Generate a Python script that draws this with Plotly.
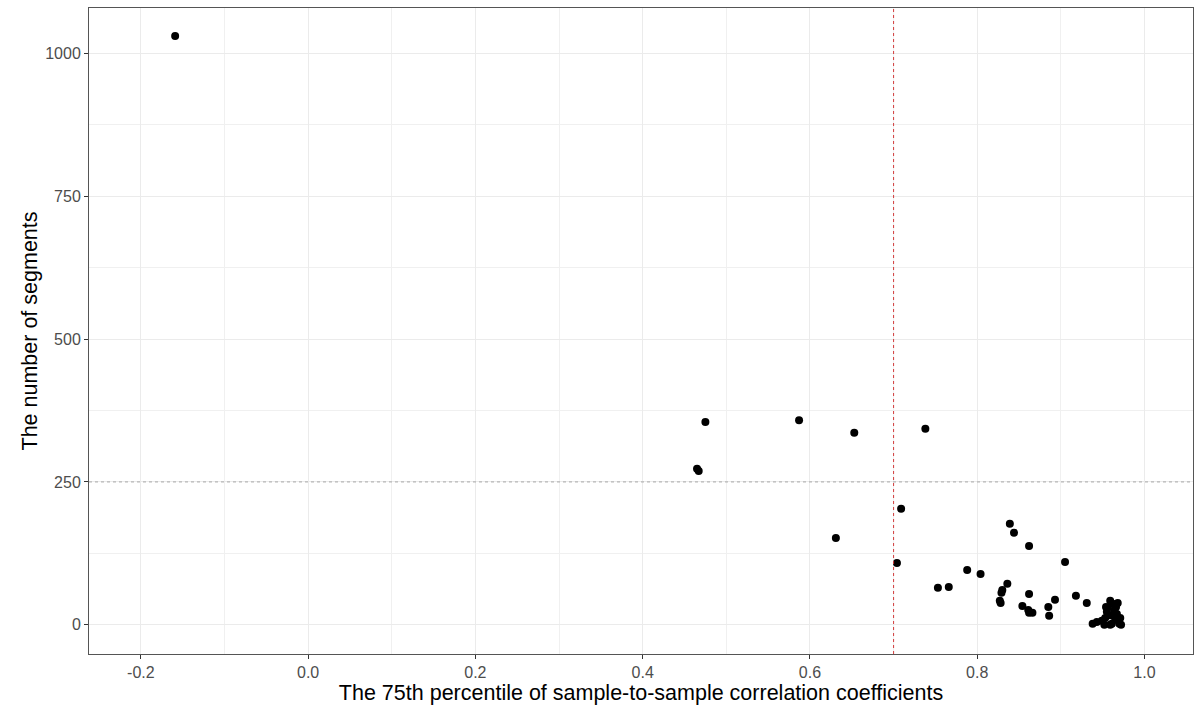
import plotly.graph_objects as go

# Data
corr_p75 = [
    -0.159, 0.465, 0.467, 0.475, 0.587, 0.653, 0.631, 0.738, 0.709, 0.704,
    0.839, 0.844, 0.862, 0.905, 0.788, 0.804, 0.753, 0.766, 0.836, 0.830,
    0.829, 0.827, 0.828, 0.862, 0.854, 0.861, 0.862, 0.866, 0.885, 0.886,
    0.893, 0.918, 0.931, 0.959, 0.968,
    0.938, 0.943, 0.949, 0.953, 0.955, 0.956, 0.959, 0.961, 0.964, 0.965,
    0.967, 0.970, 0.971, 0.972, 0.952, 0.959, 0.954, 0.966, 0.962,
]
n_segments = [
    1030, 273, 269, 355, 358, 336, 152, 343, 203, 108,
    177, 161, 138, 110, 96, 89, 65, 66, 72, 61,
    56, 42, 38, 54, 33, 26, 21, 21, 31, 16,
    44, 51, 38, 42, 38,
    2, 5, 7, 12, 23, 30, 17, 2, 26, 9,
    19, 2, 12, 0, 0, 0, 31, 31, 37,
]
cutoff_x = 0.7
cutoff_y = 250
x_ticks = [-0.2, 0.0, 0.2, 0.4, 0.6, 0.8, 1.0]
y_ticks = [0, 250, 500, 750, 1000]

FONT = "Liberation Sans, Arial, sans-serif"

fig = go.Figure()
fig.add_trace(go.Scatter(
    x=corr_p75, y=n_segments, mode="markers",
    marker=dict(color="black", size=8),
    showlegend=False, hoverinfo="x+y",
))

fig.add_vline(x=cutoff_x, line=dict(color="#d23c3c", width=1, dash="dot"))
fig.add_hline(y=cutoff_y, line=dict(color="#a8a8a8", width=1, dash="dot"))

axis_common = dict(
    showgrid=True, gridcolor="#ebebeb", gridwidth=1,
    zeroline=False, showline=True, mirror=True,
    linecolor="#555555", linewidth=1,
    ticks="outside", ticklen=4, tickcolor="#333333", tickwidth=1,
    tickfont=dict(family=FONT, size=16, color="#4d4d4d"),
)

fig.update_xaxes(
    **axis_common,
    range=[-0.262, 1.058],
    tickvals=x_ticks, ticktext=[f"{v:.1f}" for v in x_ticks],
    minor=dict(showgrid=True, gridcolor="#f0f0f0", dtick=0.1, tick0=0, ticks=""),
    title=dict(text="The 75th percentile of sample-to-sample correlation coefficients",
               font=dict(family=FONT, size=21.5, color="black"),
               standoff=3),
)
fig.update_yaxes(
    **axis_common,
    range=[-51, 1079],
    tickvals=y_ticks, ticktext=[str(v) for v in y_ticks],
    minor=dict(showgrid=True, gridcolor="#f0f0f0", dtick=125, tick0=0, ticks=""),
    title=dict(text="The number of segments",
               font=dict(family=FONT, size=21.5, color="black"),
               standoff=1),
)

fig.update_layout(
    width=1194, height=711,
    margin=dict(l=89, r=1, t=8, b=57),
    plot_bgcolor="white", paper_bgcolor="white",
    font=dict(family=FONT),
)

fig.write_html("out.html")
